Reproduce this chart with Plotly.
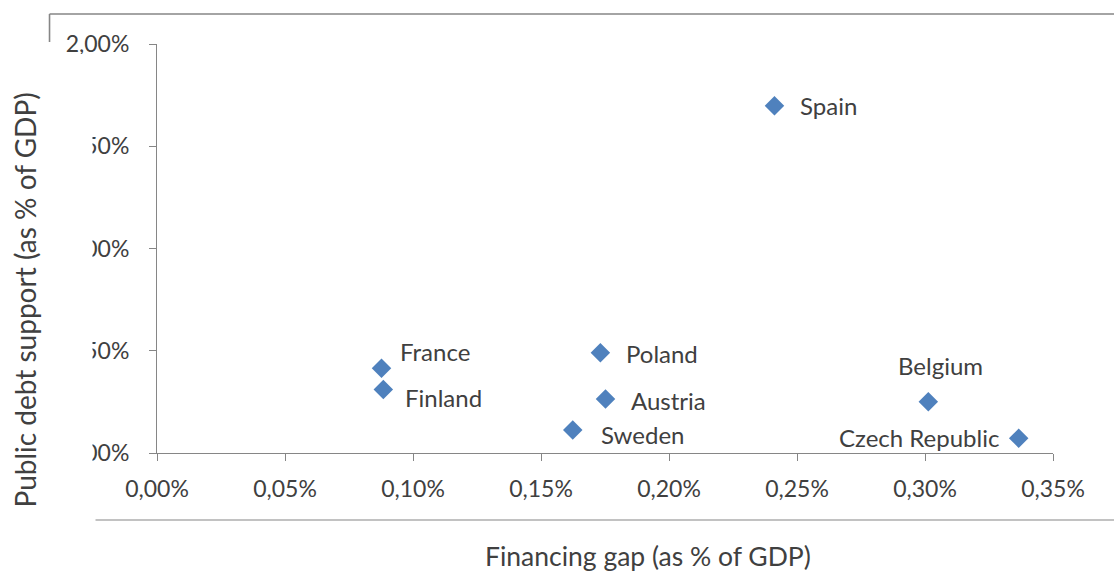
import plotly.graph_objects as go

countries = ["Spain", "France", "Finland", "Poland", "Austria", "Sweden", "Belgium", "Czech Republic"]
financing_gap = [0.002412, 0.000877, 0.000884, 0.001732, 0.001752, 0.001624, 0.003013, 0.003366]
debt_support = [0.01698, 0.00414, 0.00311, 0.00490, 0.00264, 0.00112, 0.00251, 0.00072]

x_title = "Financing gap (as % of GDP)"
y_title = "Public debt support (as % of GDP)"

# label placement (anchor, x shift, y shift in px)
label_place = {
    "Spain": ("left", 24, 0),
    "France": ("left", 16, 17),
    "Finland": ("left", 20, -8),
    "Poland": ("left", 24, -1),
    "Austria": ("left", 23, -1),
    "Sweden": ("left", 26, -4),
    "Belgium": ("center", 12, 36),
    "Czech Republic": ("right", -18, 1),
}

FONT = "Lato"
TXT = "#404040"
AX = "#868686"

fig = go.Figure()
fig.add_trace(go.Scatter(
    x=financing_gap, y=debt_support, mode="markers",
    marker=dict(symbol="diamond", size=15, color="#4F81BD"),
    hoverinfo="text", text=countries, showlegend=False,
))

W, H = 1114, 576
L, R, T, B = 156.5, 61.3, 44, 123
pw, ph = W - L - R, H - T - B

def px(x):
    return (x - L) / pw

def py(y):
    return (H - B - y) / ph

annotations = []
for name, gx, gy in zip(countries, financing_gap, debt_support):
    anchor, dx, dy = label_place[name]
    annotations.append(dict(
        x=gx, y=gy, xref="x", yref="y", text=name, showarrow=False,
        xanchor=anchor, yanchor="middle", xshift=dx, yshift=dy,
        font=dict(family=FONT, size=24, color=TXT),
    ))

# axis titles (placed as in the reference)
annotations.append(dict(
    x=px(648), y=py(574), xref="paper", yref="paper", text=x_title, showarrow=False,
    xanchor="center", yanchor="bottom", font=dict(family=FONT, size=26.5, color=TXT),
))
annotations.append(dict(
    x=px(24), y=py(300), xref="paper", yref="paper", text=y_title, showarrow=False,
    textangle=-90, xanchor="center", yanchor="middle", font=dict(family=FONT, size=28, color=TXT),
))

shapes = [
    # white cover clipping the y tick labels (as in the reference crop)
    dict(type="rect", xref="paper", yref="paper", x0=px(50), x1=px(92), y0=py(470), y1=py(54),
         fillcolor="white", line=dict(width=0), layer="above"),
    # frame fragments
    dict(type="line", xref="paper", yref="paper", x0=px(49), x1=px(1114), y0=py(14), y1=py(14),
         line=dict(color=AX, width=1.6), layer="above"),
    dict(type="line", xref="paper", yref="paper", x0=px(49), x1=px(49), y0=py(14), y1=py(42),
         line=dict(color=AX, width=1.6), layer="above"),
    dict(type="line", xref="paper", yref="paper", x0=px(95), x1=px(1114), y0=py(520), y1=py(520),
         line=dict(color=AX, width=1.2), layer="above"),
]

fig.update_layout(
    width=W, height=H,
    margin=dict(l=L, r=R, t=T, b=B, pad=0, autoexpand=False),
    paper_bgcolor="white", plot_bgcolor="white",
    separators=", ",
    font=dict(family=FONT, color=TXT, size=18),
    annotations=annotations,
    shapes=shapes,
    xaxis=dict(
        range=[0, 0.0035], dtick=0.0005, tick0=0, tickformat=".2%", automargin=False,
        showgrid=False, zeroline=False, showline=True, linecolor=AX, linewidth=1,
        ticks="outside", ticklen=7, tickcolor=AX, tickwidth=1,
        tickfont=dict(family=FONT, size=23, color=TXT), ticklabelstandoff=8,
    ),
    yaxis=dict(
        range=[0, 0.02], dtick=0.005, tick0=0, tickformat=".2%", automargin=False,
        showgrid=False, zeroline=False, showline=True, linecolor=AX, linewidth=1,
        ticks="outside", ticklen=7, tickcolor=AX, tickwidth=1,
        tickfont=dict(family=FONT, size=23, color=TXT), ticklabelstandoff=15,
    ),
)

fig.write_html("out.html", config={"displayModeBar": False},
               post_script="document.body.style.margin='0';")
